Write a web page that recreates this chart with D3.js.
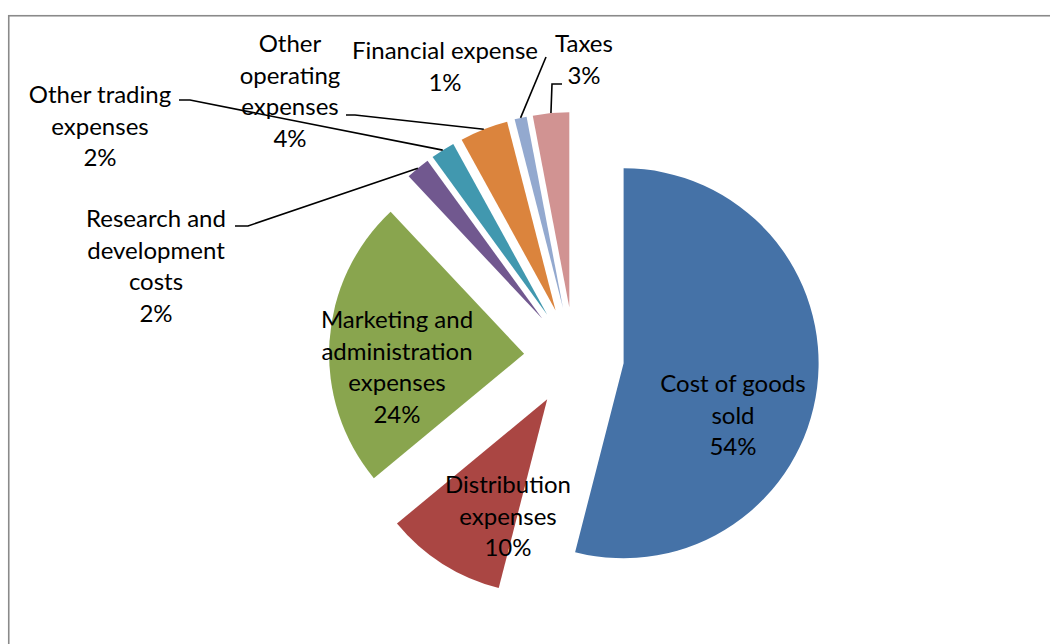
<!DOCTYPE html>
<html>
<head>
<meta charset="utf-8">
<script src="https://cdn.jsdelivr.net/npm/d3@7"></script>
<style>
  html, body { margin: 0; padding: 0; background: #fff; }
  svg { display: block; }
  text { font-family: Lato, "Open Sans", sans-serif; fill: #000; }
</style>
</head>
<body>
<svg id="chart" width="1050" height="644"></svg>
<script>
// Expense breakdown (share of total costs, %)
const categories = [
  "Cost of goods sold",
  "Distribution expenses",
  "Marketing and administration expenses",
  "Research and development costs",
  "Other trading expenses",
  "Other operating expenses",
  "Financial expense",
  "Taxes"
];
const values = [54, 10, 24, 2, 2, 4, 1, 3];
const colors = ["#4572A7", "#AA4643", "#89A54E", "#71588F", "#4198AF", "#DB843D", "#93A9CF", "#D19392"];

// How each category name wraps inside its label
const labelLines = [
  ["Cost of goods", "sold"],
  ["Distribution", "expenses"],
  ["Marketing and", "administration", "expenses"],
  ["Research and", "development", "costs"],
  ["Other trading", "expenses"],
  ["Other", "operating", "expenses"],
  ["Financial expense"],
  ["Taxes"]
];

// Label placement: centre x, first baseline y; leader elbow/end for outside labels
const labelLayout = [
  { x: 733, y: 392 },
  { x: 508, y: 493 },
  { x: 397, y: 328 },
  { x: 156, y: 227, elbow: [248, 226], end: [235, 226] },
  { x: 100, y: 103, elbow: [190, 100], end: [179, 100] },
  { x: 290, y: 52,  elbow: [355, 115], end: [346, 115] },
  { x: 445, y: 59,  elbow: [546, 57],  end: [546, 57] },
  { x: 584, y: 52,  elbow: [552, 84],  end: [562, 84] }
];

const width = 1050, height = 644;
const cx = 574, cy = 357;      // pie centre
const radius = 195;
const explode = 50;            // outward offset of every slice
const lineHeight = 31.5;
const fontSize = 24;

const svg = d3.select("#chart");

// plot frame
svg.append("rect")
  .attr("x", 8.75).attr("y", 15.75)
  .attr("width", width + 20).attr("height", height + 20)
  .attr("fill", "none")
  .attr("stroke", "#8a8a8a")
  .attr("stroke-width", 1.6);

const data = categories.map((c, i) => ({ name: c, value: values[i], color: colors[i], lines: labelLines[i], layout: labelLayout[i] }));

const total = d3.sum(values);
const pct = d3.format(".0%");

const pie = d3.pie().sort(null).value(d => d.value);
const arcs = pie(data);

const arc = d3.arc().innerRadius(0).outerRadius(radius);
const rim = d3.arc().innerRadius(radius).outerRadius(radius);

const offset = a => {
  const mid = (a.startAngle + a.endAngle) / 2;
  return [explode * Math.sin(mid), -explode * Math.cos(mid)];
};

const g = svg.append("g").attr("transform", `translate(${cx},${cy})`);

g.selectAll("path.slice")
  .data(arcs)
  .join("path")
  .attr("class", "slice")
  .attr("transform", d => { const o = offset(d); return `translate(${o[0]},${o[1]})`; })
  .attr("d", arc)
  .attr("fill", d => d.data.color);

// leader lines for the labels placed outside the pie
const leaders = arcs.filter(d => d.data.layout.elbow);
svg.append("g")
  .selectAll("polyline")
  .data(leaders)
  .join("polyline")
  .attr("fill", "none")
  .attr("stroke", "#000")
  .attr("stroke-width", 1.6)
  .attr("points", d => {
    const o = offset(d);
    const c = rim.centroid(d);
    const start = [cx + o[0] + c[0], cy + o[1] + c[1]];
    return [start, d.data.layout.elbow, d.data.layout.end].map(p => p.join(",")).join(" ");
  });

// data labels: category name plus percentage
const labels = svg.append("g")
  .selectAll("text")
  .data(arcs)
  .join("text")
  .attr("text-anchor", "middle")
  .attr("font-size", fontSize)
  .attr("x", d => d.data.layout.x)
  .attr("y", d => d.data.layout.y);

labels.each(function(d) {
  const t = d3.select(this);
  const lines = d.data.lines.concat([pct(d.data.value / total)]);
  lines.forEach((ln, i) => {
    t.append("tspan")
      .attr("x", d.data.layout.x)
      .attr("y", d.data.layout.y + i * lineHeight)
      .text(ln);
  });
});
</script>
</body>
</html>
